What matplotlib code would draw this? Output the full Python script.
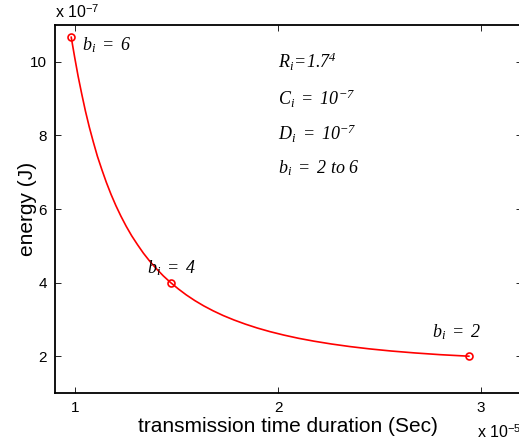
import matplotlib
matplotlib.use("Agg")
import matplotlib.pyplot as plt

plt.rcParams['font.family'] = ['Liberation Sans', 'DejaVu Sans']
plt.rcParams['mathtext.fontset'] = 'custom'
plt.rcParams['mathtext.rm'] = 'Liberation Serif:italic'
plt.rcParams['mathtext.it'] = 'Liberation Serif:italic'
plt.rcParams['mathtext.sf'] = 'Liberation Sans'

# values (x in 1e-5 s, y in 1e-7 J), along b_i = 2 .. 6
b_values = [2.0, 2.1, 2.2, 2.3, 2.4, 2.5, 2.6, 2.7, 2.8, 2.9, 3.0, 3.1, 3.2, 3.3, 3.4,
            3.5, 3.6, 3.7, 3.8, 3.9, 4.0, 4.1, 4.2, 4.3, 4.4, 4.5, 4.6, 4.7, 4.8, 4.9,
            5.0, 5.1, 5.2, 5.3, 5.4, 5.5, 5.6, 5.7, 5.8, 5.9, 6.0]
time_e5 = [2.940, 2.800, 2.673, 2.557, 2.450, 2.352, 2.262, 2.178, 2.100, 2.028, 1.960,
           1.897, 1.838, 1.782, 1.729, 1.680, 1.633, 1.589, 1.547, 1.508, 1.470, 1.434,
           1.400, 1.367, 1.336, 1.307, 1.278, 1.251, 1.225, 1.200, 1.176, 1.153, 1.131,
           1.109, 1.089, 1.069, 1.050, 1.032, 1.014, 0.997, 0.980]
energy_e7 = [2.000, 2.041, 2.089, 2.141, 2.199, 2.263, 2.332, 2.407, 2.487, 2.574, 2.667,
             2.766, 2.872, 2.985, 3.105, 3.232, 3.368, 3.512, 3.666, 3.828, 4.000, 4.182,
             4.376, 4.581, 4.798, 5.028, 5.272, 5.530, 5.804, 6.093, 6.400, 6.725, 7.069,
             7.433, 7.819, 8.228, 8.661, 9.120, 9.606, 10.121, 10.667]
marker_b = [2.0, 4.0, 6.0]
x_ticks = [1, 2, 3]
y_ticks = [2, 4, 6, 8, 10]

fig = plt.figure(figsize=(5.19, 4.44), dpi=100)
ax = fig.add_axes([55/519, 1-393/444, (521.6-55)/519, (393-25)/444])

ax.plot(time_e5, energy_e7, color='red', lw=1.2)
mx = [time_e5[b_values.index(b)] for b in marker_b]
my = [energy_e7[b_values.index(b)] for b in marker_b]
ax.plot(mx, my, 'o', mfc='none', mec='red', ms=5, mew=1.2)

ax.set_xlim(0.9, 3.2)
ax.set_ylim(1, 11)
ax.set_xticks(x_ticks)
ax.set_yticks(y_ticks)
ax.tick_params(direction='in', length=4, width=0.6, top=True, right=True, labelsize=11, pad=6)
for s in ax.spines.values():
    s.set_linewidth(1.3)

ax.set_xlabel('transmission time duration (Sec)', fontsize=15, labelpad=1)
ax.set_ylabel('energy (J)', fontsize=15, labelpad=-5)

fig.text(55/519, 1-18/444, r'x 10$^{\mathsf{-7}}$', fontsize=11.5, ha='left', va='baseline')
fig.text(477/519, 1-438/444, r'x 10$^{\mathsf{-5}}$', fontsize=11.5, ha='left', va='baseline')

fs = 13
ax.text(1.035, 10.46, r'$b_i\ =\ 6$', fontsize=fs, ha='left', va='center')
ax.text(1.355, 4.39, r'$b_i\ =\ 4$', fontsize=fs, ha='left', va='center')
ax.text(2.76, 2.65, r'$b_i\ =\ 2$', fontsize=fs, ha='left', va='center')
ax.text(2.0, 10.0, r'$R_i\!=\!1.7^4$', fontsize=fs, ha='left', va='center')
ax.text(2.0, 9.0, r'$C_i\ =\ 10^{-7}$', fontsize=fs, ha='left', va='center')
ax.text(2.0, 8.05, r'$D_i\ =\ 10^{-7}$', fontsize=fs, ha='left', va='center')
ax.text(2.0, 7.1, r'$b_i\ =\ 2\ to\ 6$', fontsize=fs, ha='left', va='center')

fig.savefig('out.png', dpi=100)
